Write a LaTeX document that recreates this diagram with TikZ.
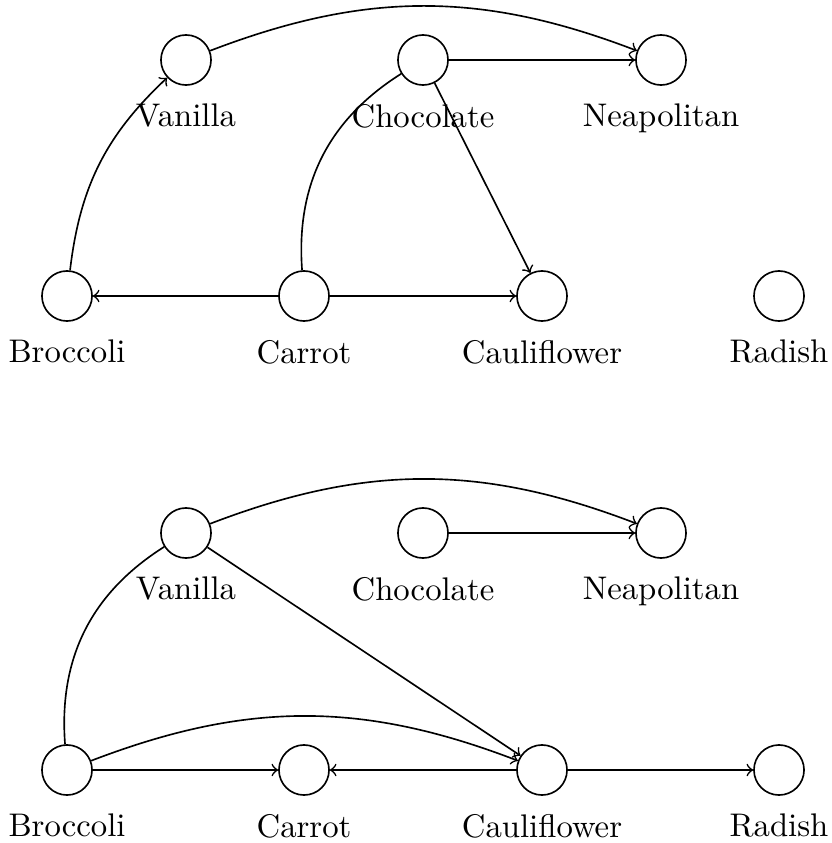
\documentclass[tikz,border=0pt]{standalone}
\begin{document}
\begin{tikzpicture}[x=0.3055pt,y=-0.3055pt,
  vtx/.style={circle,draw,minimum size=15.3pt,inner sep=0pt,line width=0.5pt},
  lbl/.style={label={[label distance=2pt]below:#1}},
  edge/.style={line width=0.5pt},
  arr/.style={edge,->}]
\useasboundingbox (0,0) rectangle (832,843);
% top graph
\node[vtx,lbl=Vanilla] (v1) at (186,60) {};
\node[vtx,lbl=Chocolate] (ch1) at (423,60) {};
\node[vtx,lbl=Neapolitan] (n1) at (661,60) {};
\node[vtx,lbl=Broccoli] (b1) at (67,296) {};
\node[vtx,lbl=Carrot] (ca1) at (304,296) {};
\node[vtx,lbl=Cauliflower] (cf1) at (542,296) {};
\node[vtx,lbl=Radish] (r1) at (779,296) {};
\draw[arr] (v1) to[bend left=21] (n1);
\draw[arr] (ch1) -- (n1);
\draw[arr] (ch1) -- (cf1);
\draw[arr] (b1) to[bend left=20] (v1);
\draw[edge] (ca1) to[bend left=31] (ch1);
\draw[arr] (ca1) -- (b1);
\draw[arr] (ca1) -- (cf1);
% bottom graph
\node[vtx,lbl=Vanilla] (v2) at (186,533) {};
\node[vtx,lbl=Chocolate] (ch2) at (423,533) {};
\node[vtx,lbl=Neapolitan] (n2) at (661,533) {};
\node[vtx,lbl=Broccoli] (b2) at (67,770) {};
\node[vtx,lbl=Carrot] (ca2) at (304,770) {};
\node[vtx,lbl=Cauliflower] (cf2) at (542,770) {};
\node[vtx,lbl=Radish] (r2) at (779,770) {};
\draw[arr] (v2) to[bend left=21] (n2);
\draw[arr] (ch2) -- (n2);
\draw[arr] (v2) -- (cf2);
\draw[edge] (b2) to[bend left=31] (v2);
\draw[arr] (b2) to[bend left=21] (cf2);
\draw[arr] (b2) -- (ca2);
\draw[arr] (cf2) -- (ca2);
\draw[arr] (cf2) -- (r2);
\end{tikzpicture}
\end{document}
